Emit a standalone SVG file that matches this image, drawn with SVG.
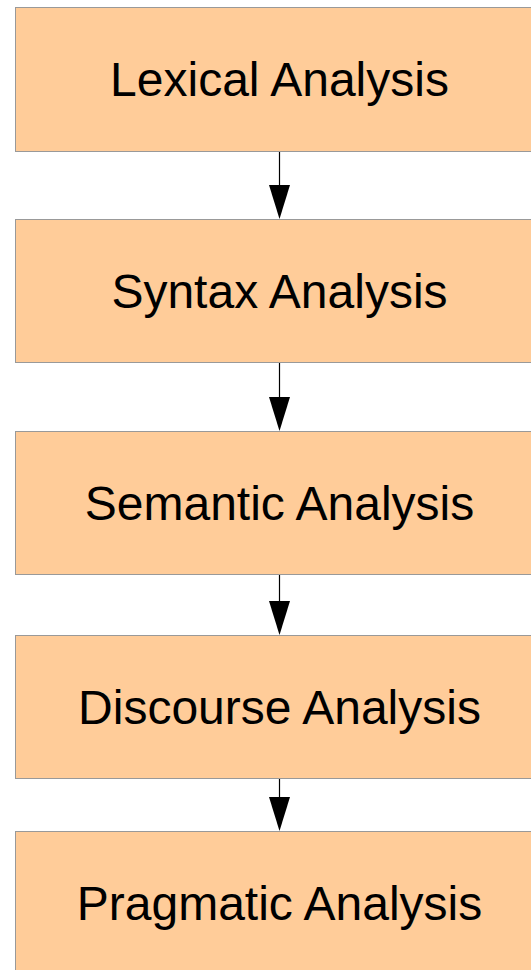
<svg xmlns="http://www.w3.org/2000/svg" width="531" height="970" viewBox="0 0 531 970">
  <style>
    .box { fill: #ffcc99; stroke: #999999; stroke-width: 1; }
    .label { font-family: "Liberation Sans", Arial, sans-serif; font-size: 48px; fill: #000000; text-anchor: middle; }
    .edge { stroke: #000000; stroke-width: 1.2; fill: none; }
    .head { fill: #000000; }
  </style>
  <rect width="531" height="970" fill="#ffffff"/>

  <g id="lexical">
    <rect class="box" x="15.5" y="7.5" width="528" height="144"/>
    <text class="label" x="279.5" y="96">Lexical Analysis</text>
  </g>
  <g id="syntax">
    <rect class="box" x="15.5" y="219.5" width="528" height="143"/>
    <text class="label" x="279.5" y="308">Syntax Analysis</text>
  </g>
  <g id="semantic">
    <rect class="box" x="15.5" y="431.5" width="528" height="143"/>
    <text class="label" x="279.5" y="520">Semantic Analysis</text>
  </g>
  <g id="discourse">
    <rect class="box" x="15.5" y="635.5" width="528" height="143"/>
    <text class="label" x="279.5" y="724">Discourse Analysis</text>
  </g>
  <g id="pragmatic">
    <rect class="box" x="15.5" y="831.5" width="528" height="150"/>
    <text class="label" x="279.5" y="920">Pragmatic Analysis</text>
  </g>

  <g id="connectors">
    <line class="edge" x1="279.5" y1="152" x2="279.5" y2="186"/>
    <polygon class="head" points="269,185 290,185 279.5,219"/>
    <line class="edge" x1="279.5" y1="363" x2="279.5" y2="398"/>
    <polygon class="head" points="269,397 290,397 279.5,431"/>
    <line class="edge" x1="279.5" y1="575" x2="279.5" y2="602"/>
    <polygon class="head" points="269,601 290,601 279.5,635"/>
    <line class="edge" x1="279.5" y1="779" x2="279.5" y2="798"/>
    <polygon class="head" points="269,797 290,797 279.5,831"/>
  </g>
</svg>
